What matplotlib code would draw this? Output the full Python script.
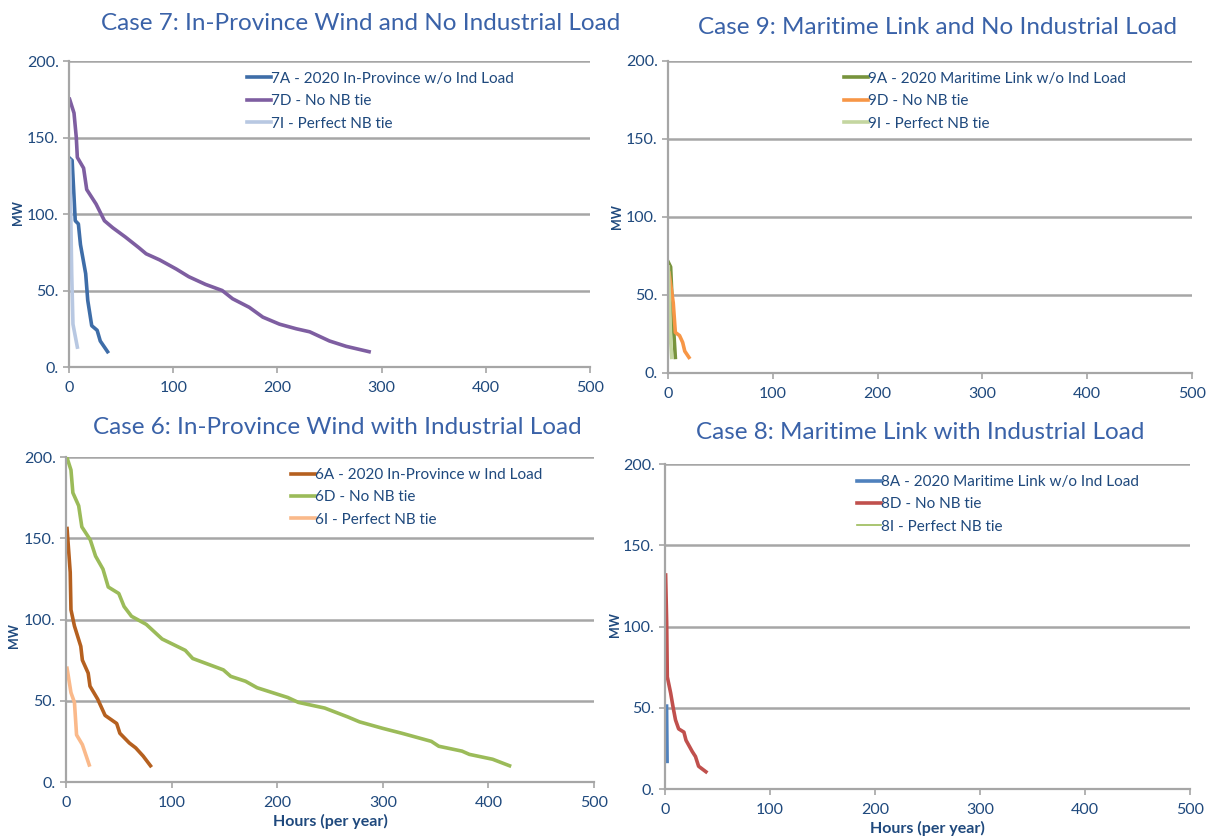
import matplotlib
matplotlib.use("Agg")
import matplotlib.pyplot as plt

plt.rcParams['font.family'] = ['Lato', 'DejaVu Sans']

# ---------------- data (hours per year, MW) ----------------
# Case 7: In-Province Wind and No Industrial Load
c7a_x = [0.6, 3, 6, 9, 11, 16, 18, 21.8, 27, 30, 37]
c7a_y = [136.5, 135, 95.6, 93.5, 80, 61, 43.5, 27, 24, 17, 10]
c7d_x = [0.6, 4.8, 7, 8, 14, 17, 26, 34, 42, 54, 67, 74, 87, 103, 115, 131, 147,
         157, 173, 186, 202, 218, 231, 250, 266, 288]
c7d_y = [175, 166, 150, 137, 130, 116, 106.5, 95.6, 91, 85, 78, 74, 70, 64, 59, 54, 50,
         44.6, 39, 32.6, 28, 25, 23, 17, 13.5, 10]
c7i_x = [0.6, 1.6, 2.6, 3.8, 8]
c7i_y = [135, 104, 61, 28, 13]

# Case 9: Maritime Link and No Industrial Load
c9a_x = [0.3, 2.5, 3.5, 5, 7]
c9a_y = [71, 68, 53, 32, 10]
c9d_x = [1, 5, 7, 11, 14, 16, 20]
c9d_y = [64, 45, 26, 24, 19.6, 14, 10]
c9i_x = [0.3, 1.6, 2.5, 3.5]
c9i_y = [68, 42, 21, 10]

# Case 6: In-Province Wind with Industrial Load
c6a_x = [1, 4, 4.7, 8, 14, 15.5, 21, 22.7, 30, 37, 48, 51, 60, 66, 73, 80]
c6a_y = [156, 129, 106, 96, 83.5, 75, 67, 59, 51, 41, 36, 30, 24, 21, 16, 10]
c6d_x = [1, 4.7, 6.5, 12, 15, 23, 28, 35, 40, 50, 55, 62, 76, 91, 113, 120, 149, 156,
         170, 181, 210, 220, 245, 267, 278, 300, 318, 346, 353, 375, 382, 404, 420]
c6d_y = [199.5, 192, 178, 170, 157, 149, 139, 131, 120, 116, 108, 102, 97, 88, 81, 76,
         69, 65, 62, 58, 52, 49, 45.5, 40, 37, 33, 30, 25, 22, 19, 17, 14, 10]
c6i_x = [1, 4.7, 8, 10, 15.5, 22]
c6i_y = [70, 55, 49, 29, 23, 10.5]

# Case 8: Maritime Link with Industrial Load
c8a_x = [1.5, 2.0]
c8a_y = [51, 17]
c8d_x = [0.6, 1.6, 2.2, 5.4, 7.6, 10, 13, 18, 20, 26, 29, 32, 39]
c8d_y = [131.7, 102, 69, 59, 50.7, 42.5, 37, 35, 30, 23, 20, 14, 10.6]
c8i_x = []
c8i_y = []

x_ticks = [0, 100, 200, 300, 400, 500]
y_ticks = [0, 50, 100, 150, 200]
y_ticklabels = ['0.', '50.', '100.', '150.', '200.']

W, H = 1210, 838
NAVY = '#1F497D'
TITLE_BLUE = '#3A62A8'
GRID = '#A6A6A6'

fig = plt.figure(figsize=(W / 100, H / 100), dpi=100)


def px_axes(left, right, top, bottom):
    return fig.add_axes([left / W, (H - bottom) / H, (right - left) / W, (bottom - top) / H])


def style_axes(ax):
    ax.set_xlim(0, 500)
    ax.set_ylim(0, 200)
    ax.set_xticks(x_ticks)
    ax.set_yticks(y_ticks)
    ax.set_yticklabels(y_ticklabels)
    ax.grid(axis='y', color=GRID, linewidth=1.8)
    ax.set_axisbelow(True)
    for s in ['top', 'right']:
        ax.spines[s].set_visible(False)
    for s in ['left', 'bottom']:
        ax.spines[s].set_color(GRID)
        ax.spines[s].set_linewidth(1.6)
    ax.tick_params(colors=GRID, labelcolor=NAVY, labelsize=11.5, length=4, width=1.2)
    ax.tick_params(axis='x', pad=6)


def add_legend(ax, anchor):
    leg = ax.legend(loc='upper left', bbox_to_anchor=anchor, frameon=False,
                    handlelength=1.55, handletextpad=0.0, labelspacing=0.55,
                    fontsize=11, borderaxespad=0)
    for t in leg.get_texts():
        t.set_color(NAVY)


TITLE_SIZE = 17.5

# ---- Case 7 ----
ax = px_axes(69, 590, 61, 367)
style_axes(ax)
ax.plot(c7a_x, c7a_y, color='#3E6DA8', lw=2.6, label='7A - 2020 In-Province w/o Ind Load')
ax.plot(c7d_x, c7d_y, color='#7E5EA1', lw=2.6, label='7D - No NB tie')
ax.plot(c7i_x, c7i_y, color='#B8C8E2', lw=2.6, label='7I - Perfect NB tie')
add_legend(ax, (0.33, 0.985))
fig.text(361 / W, 1 - 24 / H, 'Case 7: In-Province Wind and No Industrial Load',
         ha='center', va='center', fontsize=TITLE_SIZE, color=TITLE_BLUE)
fig.text(18 / W, 1 - 213 / H, 'MW', rotation=90, ha='center', va='center',
         fontsize=9, color=NAVY, fontweight='bold')

# ---- Case 9 ----
ax = px_axes(668, 1192, 61, 373)
style_axes(ax)
ax.plot(c9a_x, c9a_y, color='#77933C', lw=2.6, label='9A - 2020 Maritime Link w/o Ind Load')
ax.plot(c9d_x, c9d_y, color='#F79646', lw=2.6, label='9D - No NB tie')
ax.plot(c9i_x, c9i_y, color='#C4D6A0', lw=2.6, label='9I - Perfect NB tie')
add_legend(ax, (0.325, 0.985))
fig.text(937 / W, 1 - 28 / H, 'Case 9: Maritime Link and No Industrial Load',
         ha='center', va='center', fontsize=TITLE_SIZE, color=TITLE_BLUE)
fig.text(617 / W, 1 - 217 / H, 'MW', rotation=90, ha='center', va='center',
         fontsize=9, color=NAVY, fontweight='bold')

# ---- Case 6 ----
ax = px_axes(66, 594, 457, 782)
style_axes(ax)
ax.plot(c6a_x, c6a_y, color='#B5601F', lw=2.6, label='6A - 2020 In-Province w Ind Load')
ax.plot(c6d_x, c6d_y, color='#9BBB59', lw=2.6, label='6D - No NB tie')
ax.plot(c6i_x, c6i_y, color='#FAB98A', lw=2.6, label='6I - Perfect NB tie')
add_legend(ax, (0.415, 0.985))
ax.set_xlabel('Hours (per year)', color=NAVY, fontsize=11.5, fontweight='bold', labelpad=3)
fig.text(337 / W, 1 - 427 / H, 'Case 6: In-Province Wind with Industrial Load',
         ha='center', va='center', fontsize=TITLE_SIZE, color=TITLE_BLUE)
fig.text(14 / W, 1 - 636 / H, 'MW', rotation=90, ha='center', va='center',
         fontsize=9, color=NAVY, fontweight='bold')

# ---- Case 8 ----
ax = px_axes(665, 1190, 464, 789)
style_axes(ax)
ax.plot(c8a_x, c8a_y, color='#4F81BD', lw=2.6, label='8A - 2020 Maritime Link w/o Ind Load')
ax.plot(c8d_x, c8d_y, color='#C0504D', lw=2.6, label='8D - No NB tie')
ax.plot(c8i_x, c8i_y, color='#9BBB59', lw=1.2, label='8I - Perfect NB tie')
add_legend(ax, (0.354, 0.985))
ax.set_xlabel('Hours (per year)', color=NAVY, fontsize=11.5, fontweight='bold', labelpad=3)
fig.text(920 / W, 1 - 432 / H, 'Case 8: Maritime Link with Industrial Load',
         ha='center', va='center', fontsize=TITLE_SIZE, color=TITLE_BLUE)
fig.text(615 / W, 1 - 625 / H, 'MW', rotation=90, ha='center', va='center',
         fontsize=9, color=NAVY, fontweight='bold')

fig.savefig('out.png', dpi=100)
